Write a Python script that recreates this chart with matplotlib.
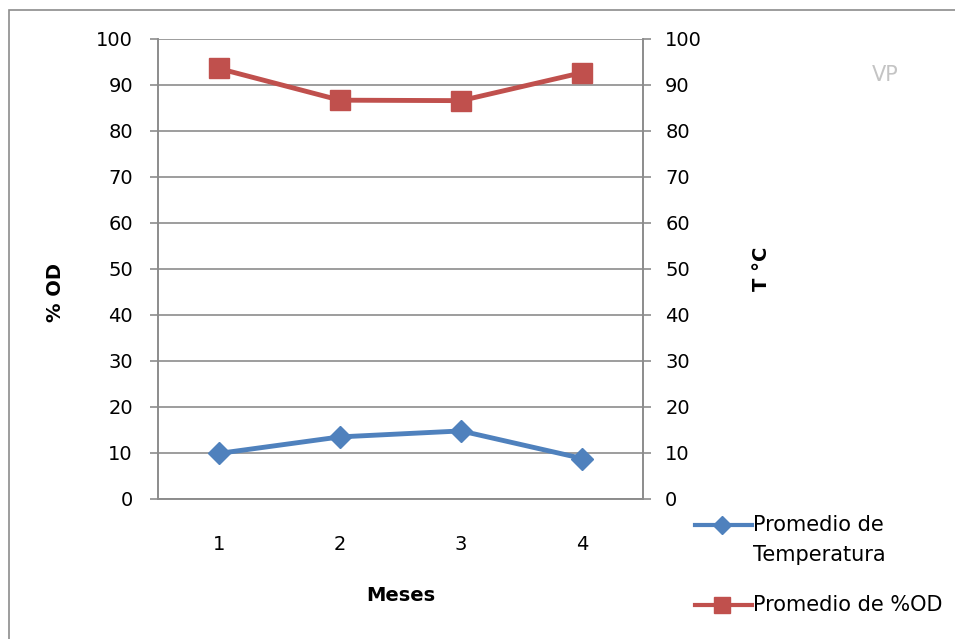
import matplotlib.pyplot as plt
from matplotlib.lines import Line2D
from matplotlib.patches import Rectangle

plt.rcParams['font.family'] = ['DejaVu Sans']

# --- Data ---
meses = [1, 2, 3, 4]
temperatura = [9.9, 13.5, 14.8, 8.8]
od = [93.6, 86.7, 86.6, 92.7]
yticks = list(range(0, 101, 10))

blue = '#4F81BD'
red = '#C0504D'
grid_col = '#8c8c8c'

fig = plt.figure(figsize=(9.55, 6.39), dpi=100)

# outer chart frame
fig.add_artist(Rectangle((9 / 955, -0.05), 1.1, 1 - 10 / 639 + 0.05,
                         transform=fig.transFigure, fill=False,
                         edgecolor='#8c8c8c', linewidth=1.2))

ax = fig.add_axes([158 / 955, 1 - 499 / 639, 485 / 955, 460 / 639])
ax2 = ax.twinx()

for a in (ax, ax2):
    a.set_ylim(0, 100)
    a.set_yticks(yticks)
    for s in a.spines.values():
        s.set_color(grid_col)
        s.set_linewidth(1.2)
    a.spines['top'].set_visible(False)

ax.set_xlim(0.5, 4.5)
ax.set_xticks(meses)
ax.tick_params(axis='x', length=0, pad=26, labelsize=14)
ax.tick_params(axis='y', length=6, width=1.2, color=grid_col, pad=12, labelsize=14)
ax2.tick_params(axis='y', length=6, width=1.2, color=grid_col, pad=10, labelsize=14)
ax.yaxis.grid(True, color=grid_col, linewidth=1.2)
ax.set_axisbelow(True)

ax.plot(meses, od, color=red, linewidth=3.5, marker='s', markersize=14,
        zorder=3)
ax2.plot(meses, temperatura, color=blue, linewidth=3.5, marker='D',
         markersize=11, zorder=3)

ax.set_ylabel('% OD', fontsize=14, fontweight='bold')
ax.yaxis.set_label_coords(-0.192, 0.45)
ax2.set_ylabel('T °C', fontsize=14, fontweight='bold', labelpad=36)
ax.set_xlabel('Meses', fontsize=14, fontweight='bold', labelpad=23)

fig.text(885 / 955, 1 - 75 / 639, 'VP', fontsize=15, color='#c4c4c4',
         ha='center', va='center')

# legend drawn by hand to the lower right
def legend_entry(y, color, marker, ms, lines):
    yf = 1 - y / 639
    fig.add_artist(Line2D([695 / 955, 752 / 955], [yf, yf], color=color,
                          linewidth=3, transform=fig.transFigure))
    fig.add_artist(Line2D([722 / 955], [yf], color=color, marker=marker,
                          markersize=ms, transform=fig.transFigure))
    for i, t in enumerate(lines):
        fig.text(753 / 955, 1 - (y + 30 * i) / 639, t, fontsize=15,
                 ha='left', va='center')

legend_entry(525, blue, 'D', 9, ['Promedio de', 'Temperatura'])
legend_entry(605, red, 's', 11, ['Promedio de %OD'])

fig.savefig('out.png', dpi=100)
